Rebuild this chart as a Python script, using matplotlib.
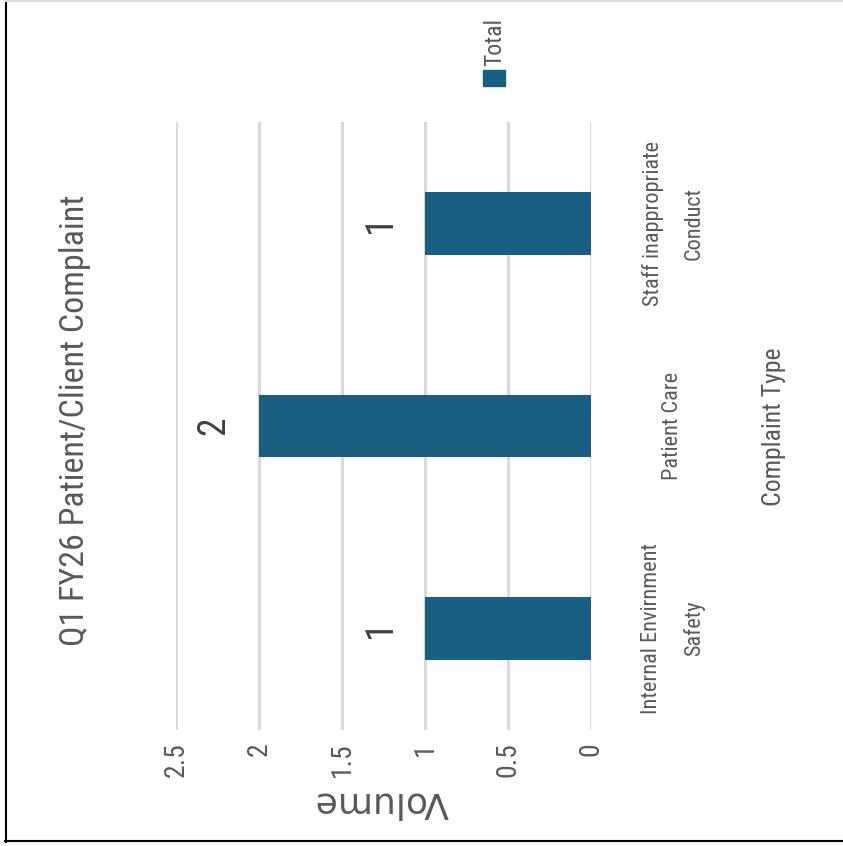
import matplotlib
matplotlib.use("Agg")
import matplotlib.pyplot as plt
from matplotlib.patches import Rectangle
from matplotlib.lines import Line2D
from matplotlib import transforms, font_manager

# ---- data ----
categories = ["Internal Envirnment\nSafety", "Patient Care", "Staff inappropriate\nConduct"]
values = [1, 2, 1]
xticks = [0, 0.5, 1, 1.5, 2, 2.5]
xtick_labels = ["0", "0.5", "1", "1.5", "2", "2.5"]
title = "Q1 FY26 Patient/Client Complaint"
value_label = "Volume"
category_label = "Complaint Type"
series_name = "Total"

installed = {f.name for f in font_manager.fontManager.ttflist}
narrow_candidates = ["Roboto Condensed", "DejaVu Sans Condensed", "Liberation Sans Narrow",
                     "Open Sans Condensed"]
narrow = [n for n in narrow_candidates if n in installed]
if narrow:
    NARROW = [narrow[0], "DejaVu Sans"]
    k = 1.0
else:
    NARROW = ["DejaVu Sans"]
    k = 0.72  # shrink so text lengths match the reference

TXT = "#595959"
BAR = "#195f82"
GRID = "#d9d9d9"

W, H = 843, 846
fig = plt.figure(figsize=(W / 100, H / 100), dpi=100)
fig.patch.set_facecolor("white")

def fx(px):
    return px / W

def fy(py):
    return 1 - py / H

left, right, top, bottom = 176, 591, 122, 730
ax = fig.add_axes([fx(left), fy(bottom), fx(right) - fx(left), fy(top) - fy(bottom)])

ypos = list(range(len(categories)))
ax.barh(ypos, values, height=0.31, color=BAR, zorder=3)
ax.set_xlim(2.5, 0)
ax.set_ylim(-0.5, len(categories) - 0.5)
ax.set_xticks(xticks)
ax.set_xticklabels(xtick_labels, rotation=90, fontsize=20 * k, color=TXT, family=NARROW)
ax.tick_params(axis="x", length=0, pad=9)
ax.set_yticks([])
ax.grid(axis="x", color=GRID, linewidth=2.2, zorder=0)
for s in ax.spines.values():
    s.set_visible(False)

# data labels
for y, v in zip(ypos, values):
    ax.annotate(str(v), xy=(v, y), xytext=(-45, 0), textcoords="offset pixels",
                rotation=90, ha="center", va="center", fontsize=27 * k,
                color="#404040", family=NARROW)

# category labels on the right side (rotated)
trans = transforms.blended_transform_factory(fig.transFigure, ax.transData)
for y, c in zip(ypos, categories):
    fig.text(fx(673), y, c, transform=trans, rotation=90, ha="center", va="center",
             multialignment="center", fontsize=16 * k, color=TXT, family=NARROW,
             linespacing=2.25)

# axis titles
fig.text(fx(774), fy(427), category_label, rotation=90, ha="center", va="center",
         fontsize=18.5 * k, color=TXT, family=NARROW)
fig.text(fx(382), fy(802), value_label, rotation=180, ha="center", va="center",
         fontsize=26, color=TXT, family="DejaVu Sans")

# title
fig.text(fx(75), fy(420), title, rotation=90, ha="center", va="center",
         fontsize=24.5 * k, color=TXT, family=NARROW)

# legend (rotated)
fig.add_artist(Rectangle((fx(483), fy(86)), fx(505) - fx(483), fy(70) - fy(86),
                         transform=fig.transFigure, color=BAR))
fig.text(fx(495), fy(66), series_name, rotation=90, ha="center", va="bottom",
         fontsize=17 * k, color=TXT, family=NARROW)

# frame lines
fig.add_artist(Line2D([fx(5.5), fx(5.5)], [fy(0), fy(842)], transform=fig.transFigure,
                      color="black", linewidth=1.5))
fig.add_artist(Line2D([fx(5), fx(843)], [fy(841), fy(841)], transform=fig.transFigure,
                      color="black", linewidth=1.5))
fig.add_artist(Line2D([fx(5), fx(843)], [fy(1), fy(1)], transform=fig.transFigure,
                      color="#dddddd", linewidth=1.5))

fig.savefig("out.png", dpi=100)
